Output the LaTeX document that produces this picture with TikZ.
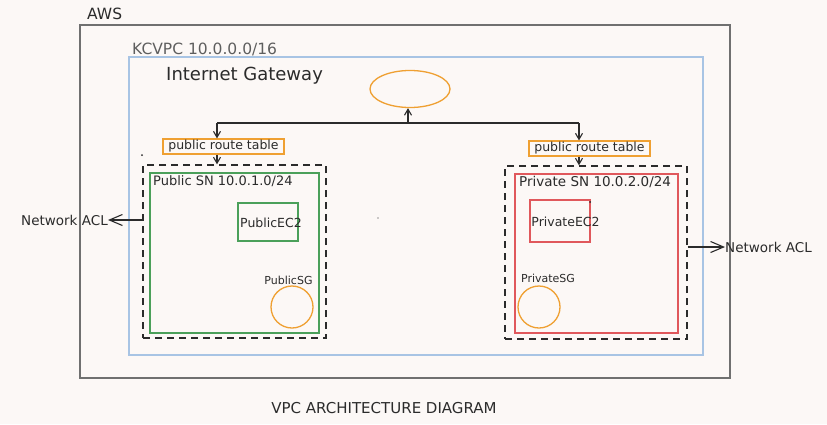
\documentclass[tikz,border=0pt]{standalone}
\usepackage{fontspec}
\setmainfont{DejaVu Sans}
\usetikzlibrary{arrows.meta,shapes.geometric,positioning}
\definecolor{paper}{HTML}{FCF8F6}
\definecolor{ink}{HTML}{2B2B2B}
\definecolor{awsgray}{HTML}{707070}
\definecolor{vpcblue}{HTML}{A8C4E4}
\definecolor{vpctext}{HTML}{5E5E5E}
\definecolor{sngreen}{HTML}{4BA05A}
\definecolor{snred}{HTML}{E0585C}
\definecolor{sgorange}{HTML}{EFA032}
\newcommand\fsz[1]{\fontsize{#1}{#1}\selectfont}

\begin{document}
\begin{tikzpicture}[x=1pt,y=-1pt,inner sep=0pt,text=ink,
  >={Straight Barb[length=6pt,width=7pt]},
  lbl/.style={font=\fsz{#1}},
  wall/.style={draw=#1,line width=1.2pt},
  nacl/.style={draw=ink,line width=1.4pt,dash pattern=on 7pt off 5pt},
  rtable/.style={draw=sgorange,line width=1.2pt,minimum width=121pt,minimum height=15pt,font=\fsz{12.5}},
  sg/.style={circle,draw=sgorange,line width=1.3pt,minimum size=42pt},
  link/.style={ink,line width=1.1pt},
  aclarrow/.style={link,-{Straight Barb[length=13pt,width=11pt]}}]
\fill[paper] (0,0) rectangle (827,424);
\useasboundingbox (0,0) rectangle (827,424);
% outer boxes
\node[wall=awsgray,line width=1.6pt,minimum width=650pt,minimum height=353pt] (aws) at (405,201.5) {};
\node[lbl=15.5,anchor=west] (awsl) at (87,14) {AWS};
\node[wall=vpcblue,minimum width=574pt,minimum height=298pt] (vpc) at (416,206) {};
\node[lbl=15.5,anchor=west,text=vpctext] (vpcl) at (132,49) {KCVPC 10.0.0.0/16};
\node[lbl=18,anchor=west] (igwl) at (166,76) {Internet Gateway};
\node[ellipse,draw=sgorange,line width=1.3pt,minimum width=80pt,minimum height=37pt] (igw) at (410,89) {};
%
\node[rtable] (rtL) at (223.5,146.5) {public route table};
\node[rtable] (rtR) at (589.5,148.5) {public route table};
%
\node[nacl,minimum width=183pt,minimum height=173pt] (daL) at (234.5,251.5) {};
\node[wall=sngreen,minimum width=169pt,minimum height=160pt] (snL) at (234.5,253) {};
\node[lbl=13,anchor=west] (snLl) at (153,181) {Public SN 10.0.1.0/24};
\node[wall=sngreen,minimum width=60pt,minimum height=38pt] (ec2L) at (268,222) {};
\node[lbl=12.5] (ec2Ll) at (271,223) {PublicEC2};
\node[lbl=11] (sgLl) at (288.5,280) {PublicSG};
\node[sg] (sgL) at (292,307) {};
%
\node[nacl,minimum width=182pt,minimum height=173pt] (daR) at (596,252.5) {};
\node[wall=snred,minimum width=163pt,minimum height=159pt] (snR) at (596.5,253.5) {};
\node[lbl=13.5,anchor=west] (snRl) at (519,182) {Private SN 10.0.2.0/24};
\node[wall=snred,minimum width=60pt,minimum height=42pt] (ec2R) at (560,221) {};
\node[lbl=12.5] (ec2Rl) at (565.5,222) {PrivateEC2};
\node[lbl=11] (sgRl) at (548,278) {PrivateSG};
\node[sg] (sgR) at (539,307) {};
%
\node[lbl=13.5,anchor=east] (aclL) at (108,220) {Network ACL};
\node[lbl=13.5,anchor=west] (aclR) at (725,247) {Network ACL};
\node[lbl=15] (cap) at (384,408) {VPC ARCHITECTURE DIAGRAM};
%%
\coordinate (jl) at (217,123);
\coordinate (jr) at (579,123);
\coordinate (jm) at (408,123);
\draw[link] (jl) -- (jr);
\draw[link,->] (jm) -- (igw.south -| jm);
\draw[link,->] (jl) -- (jl |- rtL.north);
\draw[link,->] (rtL.south -| jl) -- (daL.north -| jl);
\draw[link,->] (jr) -- (jr |- rtR.north);
\draw[link,->] (rtR.south -| jr) -- (daR.north -| jr);
\draw[aclarrow] (daL.west |- aclL) -- (aclL.east);
\draw[aclarrow] (daR.east |- aclR) -- (aclR.west);
% stray dots
\fill[ink] (142,155) circle (1pt) (378,218) circle (0.7pt) (590,202) circle (1pt);
\end{tikzpicture}
\end{document}
